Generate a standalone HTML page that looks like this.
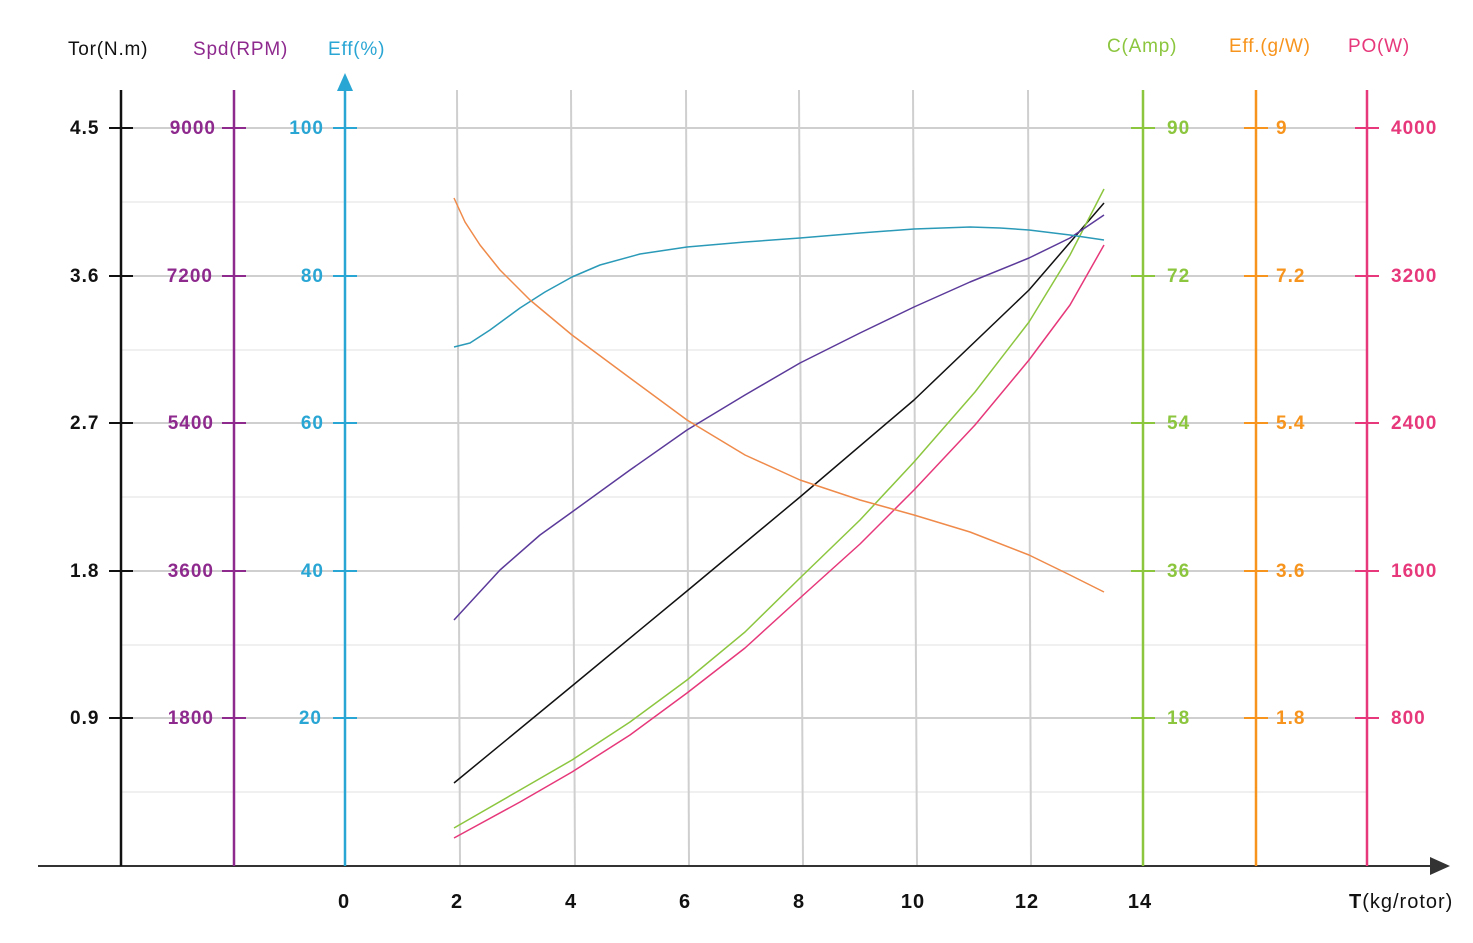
<!DOCTYPE html>
<html><head><meta charset="utf-8"><style>
body{margin:0;background:#fff}
svg{display:block;font-family:"Liberation Sans",sans-serif}
.n{font-size:19px;font-weight:bold;letter-spacing:1px}
.h{font-size:19px;letter-spacing:0.8px}
</style></head><body>
<svg width="1473" height="943" viewBox="0 0 1473 943">
<g stroke="#f0f0f0" stroke-width="2">
<line x1="121" y1="202" x2="1367" y2="202"/><line x1="121" y1="350" x2="1367" y2="350"/><line x1="121" y1="497" x2="1367" y2="497"/><line x1="121" y1="645" x2="1367" y2="645"/><line x1="121" y1="792" x2="1367" y2="792"/>
</g>
<g stroke="#cfcfcf" stroke-width="2">
<line x1="121" y1="128" x2="1367" y2="128"/><line x1="121" y1="276" x2="1367" y2="276"/><line x1="121" y1="423" x2="1367" y2="423"/><line x1="121" y1="571" x2="1367" y2="571"/><line x1="121" y1="718" x2="1367" y2="718"/>
<line x1="457" y1="90" x2="460" y2="866"/><line x1="571" y1="90" x2="575" y2="866"/><line x1="686" y1="90" x2="689" y2="866"/><line x1="799" y1="90" x2="803" y2="866"/><line x1="913" y1="90" x2="917" y2="866"/><line x1="1028" y1="90" x2="1031" y2="866"/>
</g>
<line x1="38" y1="866" x2="1440" y2="866" stroke="#333" stroke-width="2"/>
<polygon points="1450,866 1430,857 1430,875" fill="#333"/>
<g stroke-width="2.5">
<line x1="121" y1="90" x2="121" y2="866" stroke="#111"/>
<line x1="234" y1="90" x2="234" y2="866" stroke="#8e2a8e"/>
<line x1="345" y1="85" x2="345" y2="866" stroke="#2aa6d4"/>
<line x1="1143" y1="90" x2="1143" y2="866" stroke="#8cc63f"/>
<line x1="1256" y1="90" x2="1256" y2="866" stroke="#f7941d"/>
<line x1="1367" y1="90" x2="1367" y2="866" stroke="#e6387a"/>
</g>
<polygon points="345,73 337,91 353,91" fill="#2aa6d4"/>
<g stroke-width="2">
<g stroke="#111"><line x1="109" y1="128" x2="133" y2="128"/><line x1="109" y1="276" x2="133" y2="276"/><line x1="109" y1="423" x2="133" y2="423"/><line x1="109" y1="571" x2="133" y2="571"/><line x1="109" y1="718" x2="133" y2="718"/></g>
<g stroke="#8e2a8e"><line x1="222" y1="128" x2="246" y2="128"/><line x1="222" y1="276" x2="246" y2="276"/><line x1="222" y1="423" x2="246" y2="423"/><line x1="222" y1="571" x2="246" y2="571"/><line x1="222" y1="718" x2="246" y2="718"/></g>
<g stroke="#2aa6d4"><line x1="333" y1="128" x2="357" y2="128"/><line x1="333" y1="276" x2="357" y2="276"/><line x1="333" y1="423" x2="357" y2="423"/><line x1="333" y1="571" x2="357" y2="571"/><line x1="333" y1="718" x2="357" y2="718"/></g>
<g stroke="#8cc63f"><line x1="1131" y1="128" x2="1155" y2="128"/><line x1="1131" y1="276" x2="1155" y2="276"/><line x1="1131" y1="423" x2="1155" y2="423"/><line x1="1131" y1="571" x2="1155" y2="571"/><line x1="1131" y1="718" x2="1155" y2="718"/></g>
<g stroke="#f7941d"><line x1="1244" y1="128" x2="1268" y2="128"/><line x1="1244" y1="276" x2="1268" y2="276"/><line x1="1244" y1="423" x2="1268" y2="423"/><line x1="1244" y1="571" x2="1268" y2="571"/><line x1="1244" y1="718" x2="1268" y2="718"/></g>
<g stroke="#e6387a"><line x1="1355" y1="128" x2="1379" y2="128"/><line x1="1355" y1="276" x2="1379" y2="276"/><line x1="1355" y1="423" x2="1379" y2="423"/><line x1="1355" y1="571" x2="1379" y2="571"/><line x1="1355" y1="718" x2="1379" y2="718"/></g>
</g>
<g class="h">
<text x="68" y="55" fill="#111">Tor(N.m)</text>
<text x="193" y="55" fill="#8e2a8e">Spd(RPM)</text>
<text x="328" y="55" fill="#2aa6d4">Eff(%)</text>
<text x="1107" y="52" fill="#8cc63f">C(Amp)</text>
<text x="1229" y="52" fill="#f7941d">Eff.(g/W)</text>
<text x="1348" y="52" fill="#e6387a">PO(W)</text>
</g>
<g class="n" fill="#111"><text x="70" y="134">4.5</text><text x="70" y="282">3.6</text><text x="70" y="429">2.7</text><text x="70" y="577">1.8</text><text x="70" y="724">0.9</text></g>
<g class="n" fill="#8e2a8e" text-anchor="end"><text x="216" y="134">9000</text><text x="213" y="282">7200</text><text x="214" y="429">5400</text><text x="214" y="577">3600</text><text x="214" y="724">1800</text></g>
<g class="n" fill="#2aa6d4" text-anchor="end"><text x="324" y="134">100</text><text x="324" y="282">80</text><text x="324" y="429">60</text><text x="324" y="577">40</text><text x="322" y="724">20</text></g>
<g class="n" fill="#8cc63f"><text x="1167" y="134">90</text><text x="1167" y="282">72</text><text x="1167" y="429">54</text><text x="1167" y="577">36</text><text x="1167" y="724">18</text></g>
<g class="n" fill="#f7941d"><text x="1276" y="134">9</text><text x="1276" y="282">7.2</text><text x="1276" y="429">5.4</text><text x="1276" y="577">3.6</text><text x="1276" y="724">1.8</text></g>
<g class="n" fill="#e6387a"><text x="1391" y="134">4000</text><text x="1391" y="282">3200</text><text x="1391" y="429">2400</text><text x="1391" y="577">1600</text><text x="1391" y="724">800</text></g>
<g class="n" fill="#111" text-anchor="middle" style="font-size:20px"><text x="344" y="908">0</text><text x="457" y="908">2</text><text x="571" y="908">4</text><text x="685" y="908">6</text><text x="799" y="908">8</text><text x="913" y="908">10</text><text x="1027" y="908">12</text><text x="1140" y="908">14</text></g>
<text x="1349" y="908" fill="#111" style="font-size:20px;letter-spacing:1px"><tspan font-weight="bold">T</tspan>(kg/rotor)</text>
<g fill="none" stroke-width="1.5" stroke-linejoin="round">
<polyline stroke="#111" points="454,783 572,686 687,591 800,497 914,400 1029,290 1104,203"/>
<polyline stroke="#8cc63f" points="454,828 520,790 572,760 630,722 687,680 745,632 800,578 860,520 914,462 975,392 1029,322 1070,255 1104,189"/>
<polyline stroke="#e6387a" points="454,838 520,802 572,772 630,735 687,693 745,648 800,598 860,544 914,490 975,425 1029,360 1070,305 1104,245"/>
<polyline stroke="#5b3a9a" points="454,620 500,570 540,535 572,512 630,470 687,430 745,395 800,363 860,333 914,307 970,282 1029,258 1070,238 1104,215"/>
<polyline stroke="#2a9ab8" points="454,347 470,343 490,330 520,308 545,292 572,277 600,265 640,254 687,247 745,242 800,238 860,233 914,229 970,227 1000,228 1029,230 1070,235 1104,240"/>
<polyline stroke="#ef8a4a" points="454,198 465,222 480,245 500,270 530,300 572,335 630,378 687,420 745,455 800,480 860,500 914,515 970,532 1029,555 1070,575 1104,592"/>
</g>
</svg>
</body></html>
